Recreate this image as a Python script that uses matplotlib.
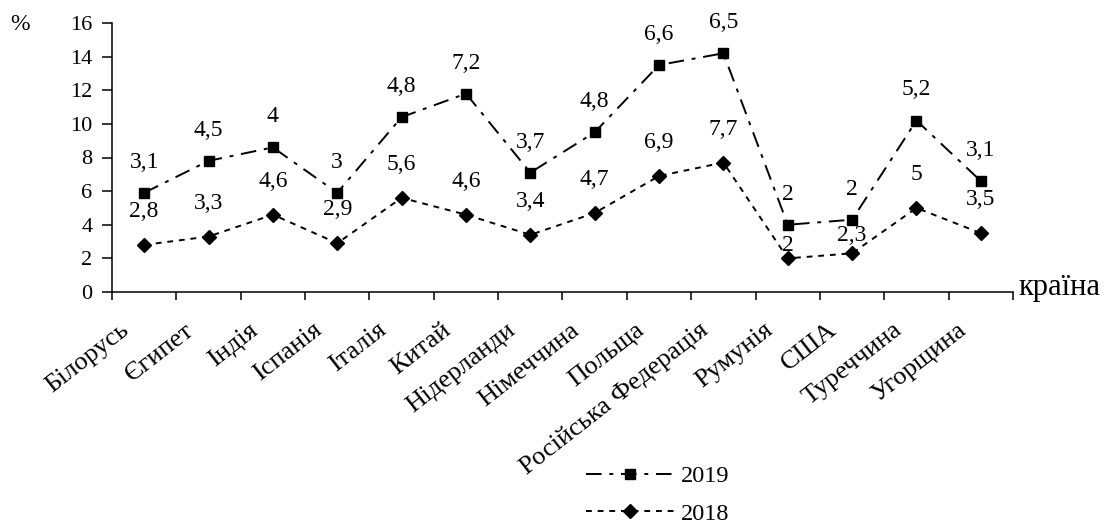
import numpy as np
import matplotlib
matplotlib.use('Agg')
import matplotlib.pyplot as plt

plt.rcParams['font.family'] = ['Liberation Serif', 'DejaVu Serif']

countries = ['Білорусь', 'Єгипет', 'Індія', 'Іспанія', 'Італія', 'Китай', 'Нідерланди',
             'Німеччина', 'Польща', 'Російська Федерація', 'Румунія', 'США',
             'Туреччина', 'Угорщина']
v2018 = [2.8, 3.3, 4.6, 2.9, 5.6, 4.6, 3.4, 4.7, 6.9, 7.7, 2, 2.3, 5, 3.5]
v2019 = [3.1, 4.5, 4, 3, 4.8, 7.2, 3.7, 4.8, 6.6, 6.5, 2, 2, 5.2, 3.1]

# stacked line chart: 2019 is drawn on top of 2018
top2019 = np.add(v2018, v2019)
x = np.arange(len(countries))

# label offsets (points above marker) for the 2018 series, a few were moved by hand
off2018 = [24] * len(countries)
off2018[10] = 9
off2018[11] = 13

fig = plt.figure(figsize=(11.14, 5.26), dpi=100)
ax = fig.add_axes([112 / 1114, 1 - 292 / 526, (1013 - 112) / 1114, (292 - 23) / 526])

l19, = ax.plot(x, top2019, color='black', lw=1.4, ls=(0, (8, 4, 2, 4)),
               marker='s', ms=7.5, label='2019')
l18, = ax.plot(x, v2018, color='black', lw=1.4, ls=(0, (3, 3)),
               marker='D', ms=7.5, label='2018')

for i in range(len(countries)):
    ax.annotate(str(v2019[i]).replace('.', ','), (x[i], top2019[i]), xytext=(0, 22),
                textcoords='offset points', ha='center', va='center', fontsize=17)
    ax.annotate(str(v2018[i]).replace('.', ','), (x[i], v2018[i]), xytext=(0, off2018[i]),
                textcoords='offset points', ha='center', va='center', fontsize=17)
    # category names, slanted under the axis
    ax.annotate(countries[i], (x[i], 0), xycoords=('data', 'axes fraction'),
                xytext=(-10, -29), textcoords='offset points', fontsize=19,
                rotation=38, rotation_mode='anchor', ha='right', va='baseline')

ax.set_xlim(-0.5, len(countries) - 0.5)
ax.set_ylim(0, 16)
ax.set_yticks(range(0, 17, 2))
ax.tick_params(axis='y', direction='out', length=7, width=1.1, pad=7, labelsize=16)

ax.set_xticks(np.arange(-0.5, len(countries), 1))
ax.set_xticklabels([])
ax.tick_params(axis='x', direction='out', length=6, width=1.1)

for s in ['top', 'right']:
    ax.spines[s].set_visible(False)
for s in ['left', 'bottom']:
    ax.spines[s].set_linewidth(1.1)

fig.text(20 / 1114, 1 - 24 / 526, '%', fontsize=17, ha='center', va='center')
fig.text(1018 / 1114, 1 - 287 / 526, 'країна', fontsize=22, ha='left', va='center')

fig.legend([l19, l18], ['2019', '2018'], loc='center', bbox_to_anchor=(658 / 1114, 1 - 495 / 526),
           frameon=False, fontsize=17.5, handlelength=3.6, handletextpad=0.3, labelspacing=0.62,
           borderaxespad=0, borderpad=0)

fig.savefig('out.png', dpi=100)
